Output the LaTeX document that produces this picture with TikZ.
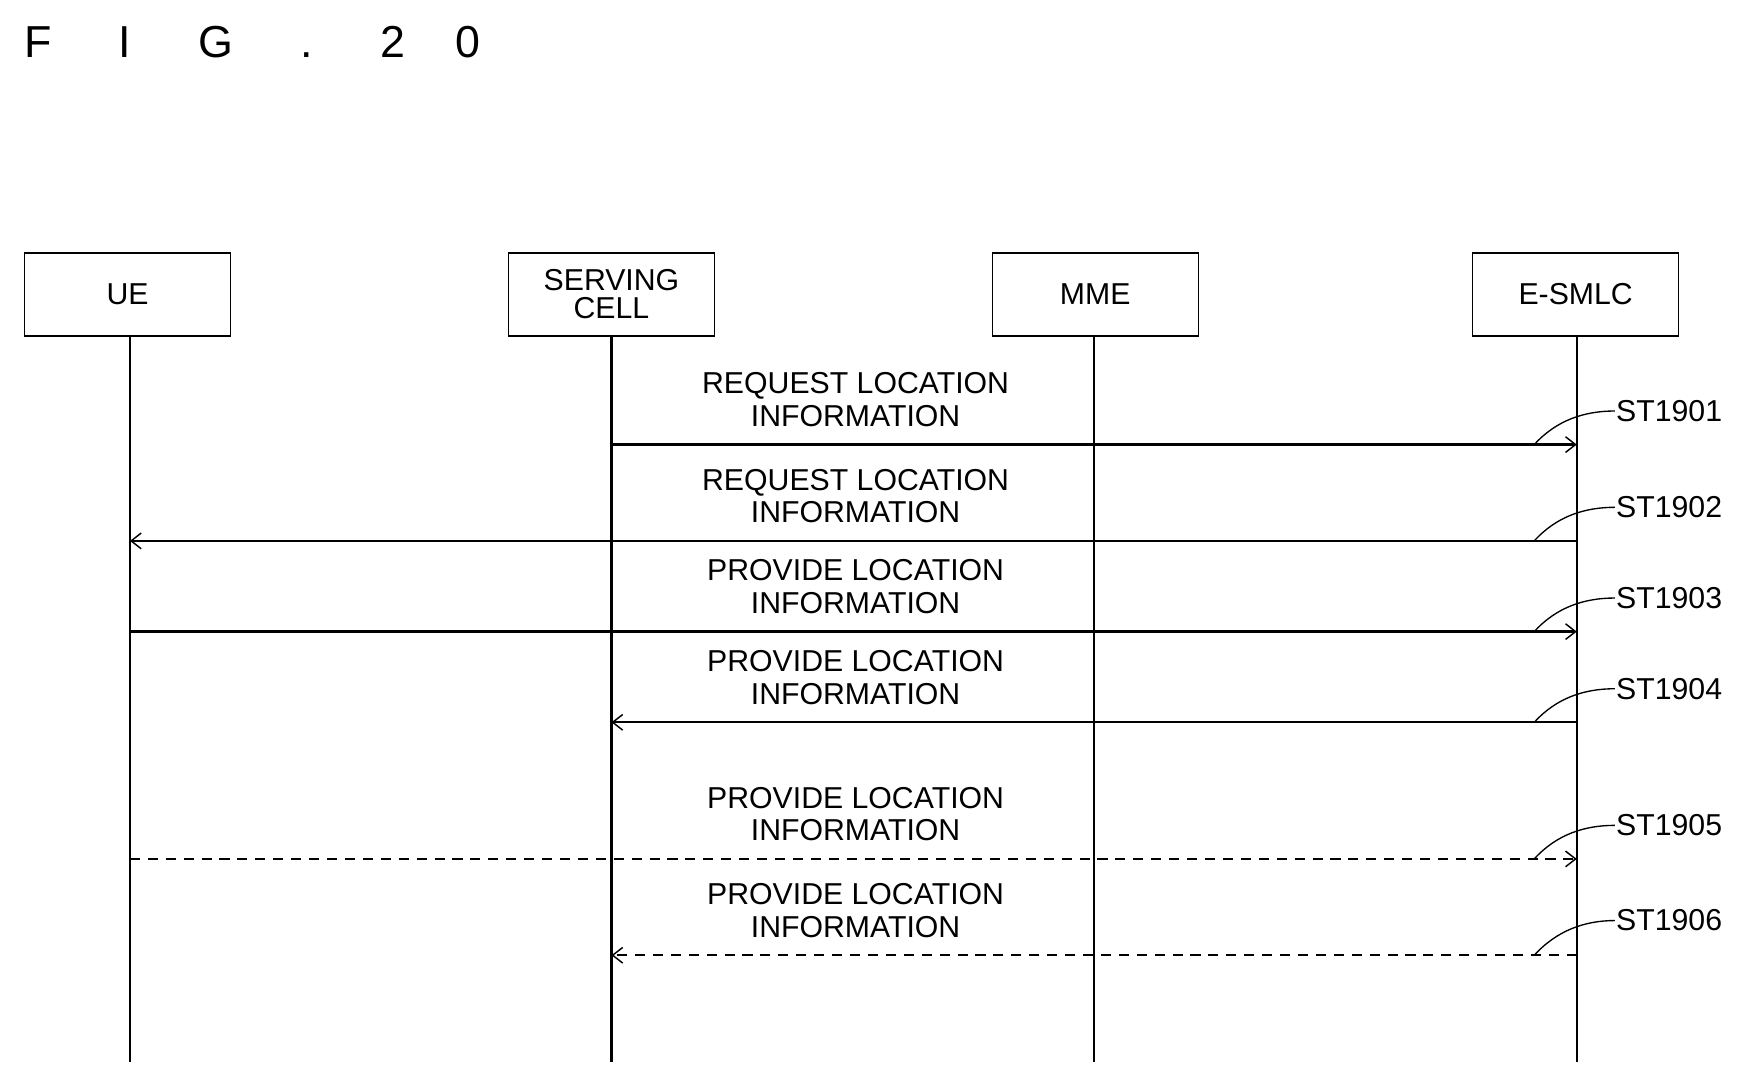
\documentclass[tikz,border=0pt]{standalone}
\usepackage{fontspec}
\setmainfont{Liberation Sans}
\usetikzlibrary{arrows.meta}
\begin{document}
\begin{tikzpicture}[x=1pt,y=-1pt,
  ent/.style={draw,line width=1.2pt,minimum width=184pt,minimum height=74pt,font=\fontsize{27}{25}\selectfont,align=center,inner sep=0pt},
  life/.style={line width=2pt},
  msg/.style={line width=2pt,-{Straight Barb[length=9pt,width=14pt,line width=1.3pt]}},
  dmsg/.style={msg,dash pattern=on 9pt off 7pt},
  lab/.style={font=\fontsize{27}{29}\selectfont,align=center},
  st/.style={font=\fontsize{27}{27}\selectfont,anchor=west,inner sep=1pt},
  lead/.style={line width=1.2pt}]
\useasboundingbox (0,0) rectangle (1560,964);
\node[anchor=west,font=\fontsize{40}{40}\selectfont] (t) at (18,38) {F\hspace{60pt}I\hspace{60pt}G\hspace{60pt}.\hspace{60pt}2\hspace{45pt}0};
\node[ent] (ue) at (114,263) {UE};
\node[ent] (sc) at (546,263) {SERVING\\CELL};
\node[ent] (mme) at (978,263) {MME};
\node[ent] (es) at (1407,263) {E-SMLC};
\foreach \n/\x in {ue/116,sc/546,mme/977,es/1408}{
  \coordinate (\n b) at (\x,948);
  \draw[life] (\x,300) -- (\n b);}
\foreach \y/\a/\b/\s/\t/\ly/\k in {397/546/1408/msg/REQUEST/367/1,483/1408/116/msg/REQUEST/453/2,564/116/1408/msg/PROVIDE/534/3,645/1408/546/msg/PROVIDE/615/4,767/116/1408/dmsg/PROVIDE/737/5,853/1408/546/dmsg/PROVIDE/822/6}{
  \coordinate (s\k) at (\a,\y); \coordinate (e\k) at (\b,\y);
  \draw[\s] (s\k) -- (e\k);
  \node[lab] (m\k) at (764,\y-40) {\t\ LOCATION\\INFORMATION};
  \node[st] (st\k) at (1442,\ly) {ST190\k};
  \coordinate (c\k) at (1370,\y);
  \draw[lead] (c\k) .. controls (1390,\y-22) and (1415,\ly) .. (st\k.west);}
\end{tikzpicture}
\end{document}
